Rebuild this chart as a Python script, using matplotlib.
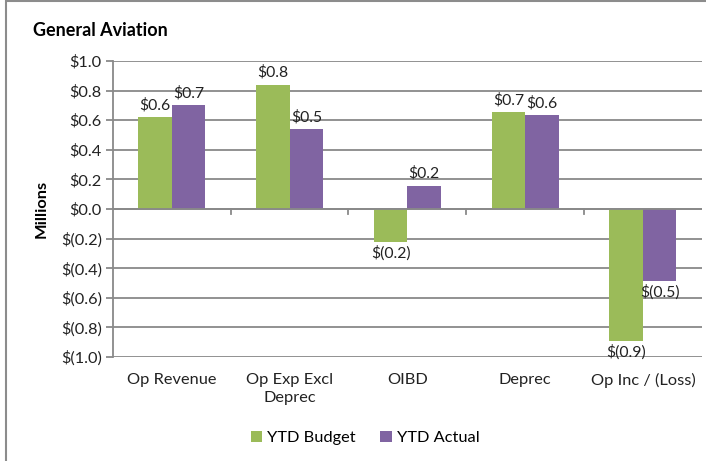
import numpy as np
import matplotlib.pyplot as plt
from matplotlib.patches import Rectangle

# data (millions)
categories = ['Op Revenue', 'Op Exp Excl\nDeprec', 'OIBD', 'Deprec', 'Op Inc / (Loss)']
ytd_budget = [0.62, 0.84, -0.225, 0.655, -0.89]
ytd_actual = [0.70, 0.54, 0.157, 0.635, -0.485]
yticks = [1.0, 0.8, 0.6, 0.4, 0.2, 0.0, -0.2, -0.4, -0.6, -0.8, -1.0]

green = '#9BBB59'
purple = '#8064A2'
grid_c = '#898989'

plt.rcParams['font.family'] = ['Lato', 'DejaVu Sans']
fs = 11.8


def money(v):
    if round(v, 1) < 0:
        return '$({0:.1f})'.format(abs(v))
    return '${0:.1f}'.format(v)


fig = plt.figure(figsize=(7.06, 4.61), dpi=100)
ax = fig.add_axes([0.160, 0.2256, 0.834, 0.642])

x = np.arange(len(categories))
w = 0.285
b1 = ax.bar(x - w / 2, ytd_budget, w, color=green, label='YTD Budget', zorder=3)
b2 = ax.bar(x + w / 2, ytd_actual, w, color=purple, label='YTD Actual', zorder=3)

for bars, vals in ((b1, ytd_budget), (b2, ytd_actual)):
    for r, v in zip(bars, vals):
        cx = r.get_x() + r.get_width() / 2
        if v >= 0:
            ax.annotate(money(v), (cx, v), xytext=(0, 3.5), textcoords='offset points',
                        ha='center', va='bottom', fontsize=11.3, color='#222222')
        else:
            ax.annotate(money(v), (cx, v), xytext=(0, -2.5), textcoords='offset points',
                        ha='center', va='top', fontsize=11.3, color='#222222')

ax.set_xlim(-0.5, len(categories) - 0.5)
ax.set_ylim(-1.0, 1.0)
ax.set_yticks(yticks)
ax.set_yticklabels([money(t) for t in yticks], fontsize=fs, color='#222222')
ax.yaxis.grid(True, color=grid_c, linewidth=1.3, zorder=0)
ax.set_axisbelow(True)

for s in ('top', 'right', 'bottom'):
    ax.spines[s].set_visible(False)
ax.spines['left'].set_color(grid_c)
ax.spines['left'].set_linewidth(1.3)
ax.tick_params(axis='y', length=5, width=1.3, color=grid_c, pad=3)

# category axis at zero
ax.axhline(0, color=grid_c, linewidth=1.3, zorder=4)
for b in np.arange(0.5, len(categories) - 0.5):
    ax.plot([b, b], [0, -0.035], color=grid_c, linewidth=1.3, zorder=4, clip_on=False)
ax.set_xticks(x)
ax.set_xticklabels([])
ax.tick_params(axis='x', length=0)
for xi, c in zip(x, categories):
    ax.text(xi, -1.105, c, ha='center', va='top', fontsize=fs, color='#222222',
            linespacing=1.4)

ax.set_ylabel('Millions', fontsize=fs, fontweight='bold', labelpad=9)
fig.text(0.047, 0.934, 'General Aviation', fontsize=13, fontweight='bold', va='center')

fig.legend(handles=[b1, b2], loc='center', bbox_to_anchor=(0.517, 0.05), ncol=2,
           frameon=False, fontsize=fs, handlelength=0.7, handleheight=0.7,
           handletextpad=0.3, columnspacing=1.5)

# outer frame
fig.patches.append(Rectangle((0.008, -0.1), 1.2, 1.097, transform=fig.transFigure,
                             fill=False, edgecolor='#8c8c8c', linewidth=1.5))

fig.savefig('out.png', dpi=100)
